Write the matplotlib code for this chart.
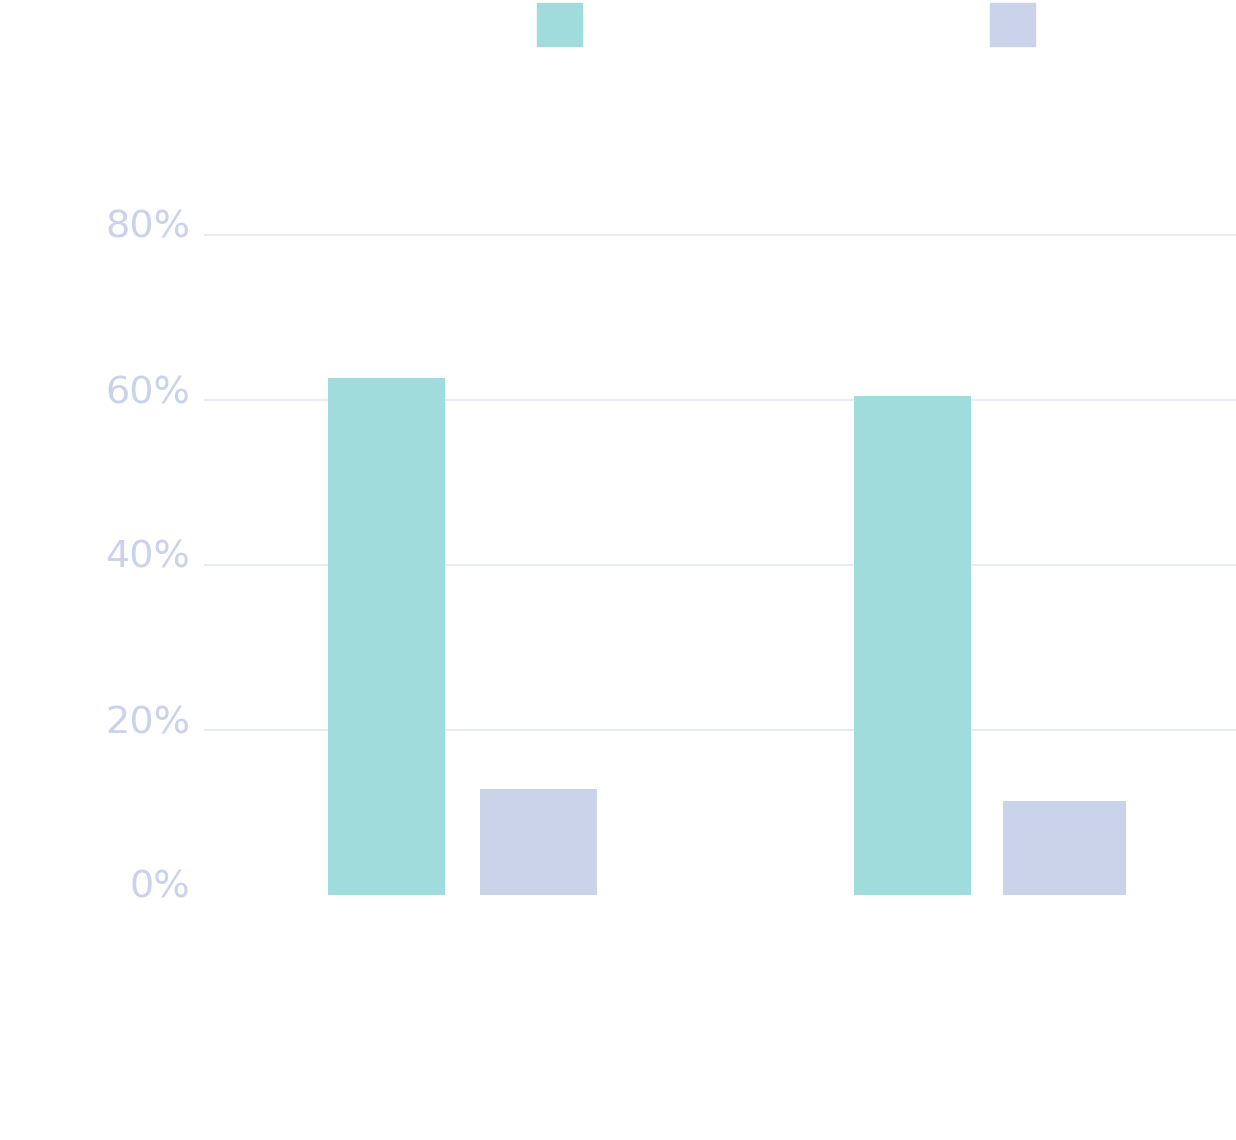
import matplotlib.pyplot as plt
from matplotlib.patches import Patch
from matplotlib.transforms import ScaledTranslation

# data
categories = ['A', 'B']
series_names = ['Series 1', 'Series 2']
series1 = [62.7, 60.5]
series2 = [12.8, 11.4]
yticks = [0, 20, 40, 60, 80]
ytick_labels = ['0%', '20%', '40%', '60%', '80%']

teal = '#a0dcdb'
lavender = '#cbd3ea'
grid_col = '#e8eaf6'

plt.rcParams['font.family'] = ['DejaVu Sans']

fig = plt.figure(figsize=(12.36, 11.4), dpi=100)
W, H = 1236, 1140
ax = fig.add_axes([204 / W, (H - 895) / H, (W - 204) / W, (895 - 70) / H])

x = list(range(len(categories)))
ax.bar([i - 0.144 for i in x], series1, width=0.222, color=teal, zorder=3)
ax.bar([i + 0.145 for i in x], series2, width=[0.222, 0.234], color=lavender, zorder=3)

ax.hlines(yticks[1:], -0.49, 1.47, color=grid_col, lw=1.5, zorder=1)

ax.set_xlim(-0.49, 1.47)
ax.set_ylim(0, 100)
ax.set_xticks(x)
ax.set_xticklabels(categories, color='white')
ax.set_yticks(yticks)
ax.set_yticklabels(ytick_labels, color=lavender, fontsize=27.5)
ax.tick_params(length=0, axis='y', pad=10)
ax.tick_params(length=0, axis='x')
for lab in ax.get_yticklabels():
    lab.set_transform(lab.get_transform() + ScaledTranslation(0, 0.11, fig.dpi_scale_trans))
for s in ax.spines.values():
    s.set_visible(False)

# legend keys (labels are white in the original)
for name, col, lx in [(series_names[0], teal, 537), (series_names[1], lavender, 990)]:
    fig.legend(handles=[Patch(color=col)], labels=[name], loc='upper left',
               bbox_to_anchor=(lx / W, 1 - 3 / H), frameon=False, borderpad=0,
               borderaxespad=0, fontsize=14, handlelength=2.32, handleheight=3.0,
               handletextpad=0.6, labelcolor='white')

fig.savefig('out.png', dpi=100, facecolor='white')
